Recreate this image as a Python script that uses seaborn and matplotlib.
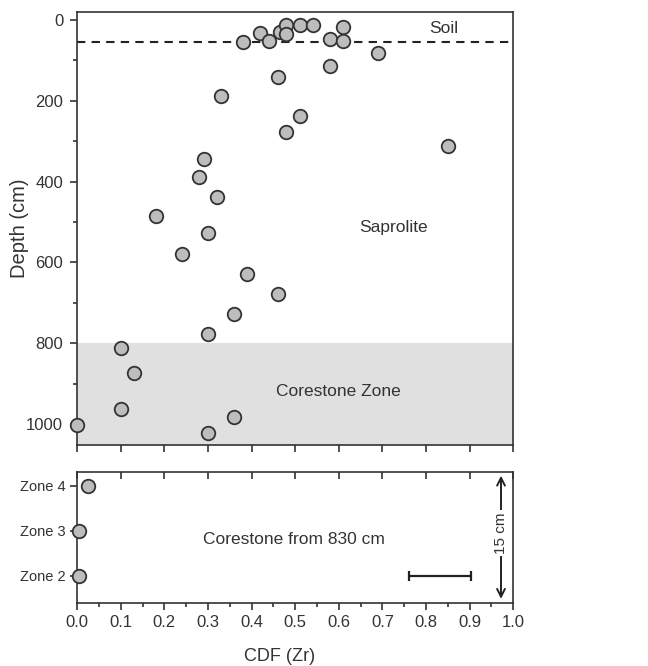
import matplotlib.pyplot as plt
import seaborn as sns
import pandas as pd

# Depth profile of CDF (Zr)
cdf_zr = [0.38, 0.42, 0.44, 0.465, 0.48, 0.48, 0.51, 0.54, 0.61, 0.58, 0.61,
          0.69, 0.58, 0.46, 0.33, 0.51, 0.48, 0.85, 0.29, 0.28, 0.32, 0.18,
          0.30, 0.24, 0.39, 0.46, 0.36, 0.30, 0.10, 0.13, 0.10, 0.00, 0.36, 0.30]
depth_cm = [55, 32, 53, 30, 12, 35, 12, 12, 17, 47, 53,
            82, 113, 141, 188, 237, 277, 313, 343, 388, 439, 484,
            527, 579, 628, 678, 729, 777, 811, 873, 963, 1002, 984, 1022]

# Corestone zones
zone_labels = ["Zone 4", "Zone 3", "Zone 2"]
zone_pos = [4, 3, 2]
zone_cdf = [0.024, 0.005, 0.005]

soil_base = 55
corestone_top = 800
scale_bar = [0.762, 0.903]

sns.set_style("ticks")
plt.rcParams["font.family"] = ["Liberation Sans", "DejaVu Sans"]
txt = "#333333"
plt.rcParams.update({"text.color": txt, "axes.labelcolor": txt,
                     "xtick.color": "#333333", "ytick.color": "#333333",
                     "axes.edgecolor": "#333333"})

fig = plt.figure(figsize=(6.48, 6.66), dpi=100)
ax1 = fig.add_axes([0.119, 0.332, 0.673, 0.650])
ax2 = fig.add_axes([0.119, 0.0946, 0.673, 0.1967])

face = "#bdbdbd"
edge = "#333333"

# top panel
df = pd.DataFrame({"cdf": cdf_zr, "depth": depth_cm})
ax1.axhspan(corestone_top, 1100, color="#e0e0e0", lw=0, zorder=0)
ax1.axhline(soil_base, color="#222222", ls=(0, (4, 3)), lw=1.5, zorder=1)
sns.scatterplot(data=df, x="cdf", y="depth", ax=ax1, s=95, color=face,
                edgecolor=edge, linewidth=1.3, clip_on=False, zorder=3)
ax1.set_xlim(0, 1)
ax1.set_ylim(1052, -20)
ax1.set_xticks([i / 10 for i in range(11)])
ax1.set_xticklabels([])
ax1.set_yticks([0, 200, 400, 600, 800, 1000])
ax1.set_yticks([100, 300, 500, 700, 900], minor=True)
ax1.set_xlabel("")
ax1.set_ylabel("Depth (cm)", fontsize=14.5)
ax1.yaxis.set_label_coords(-0.110, 0.5)
ax1.tick_params(axis="both", which="major", direction="out", length=5,
                width=1.2, labelsize=12, pad=5)
ax1.tick_params(axis="y", which="minor", direction="out", length=3, width=1.2)
for sp in ax1.spines.values():
    sp.set_linewidth(1.2)
ax1.text(0.84, 22, "Soil", fontsize=12.5, ha="center", va="center")
ax1.text(0.725, 513, "Saprolite", fontsize=12.5, ha="center", va="center")
ax1.text(0.60, 921, "Corestone Zone", fontsize=12.5, ha="center", va="center")

# bottom panel
dz = pd.DataFrame({"cdf": zone_cdf, "pos": zone_pos})
sns.scatterplot(data=dz, x="cdf", y="pos", ax=ax2, s=95, color=face,
                edgecolor=edge, linewidth=1.3, clip_on=False, zorder=3)
ax2.set_xlim(0, 1)
ax2.set_ylim(1.4, 4.3)
ax2.set_yticks(zone_pos)
ax2.set_yticklabels(zone_labels)
ax2.set_xticks([i / 10 for i in range(11)])
ax2.set_xticklabels([f"{i / 10:.1f}" for i in range(11)])
ax2.set_xticks([i / 20 for i in range(1, 20, 2)], minor=True)
ax2.set_ylabel("")
ax2.set_xlabel("CDF (Zr)", fontsize=13)
ax2.xaxis.set_label_coords(0.465, -0.345)
ax2.tick_params(axis="x", which="major", direction="out", length=5,
                width=1.2, labelsize=12)
ax2.tick_params(axis="y", which="major", direction="out", length=5,
                width=1.2, labelsize=10.5)
ax2.tick_params(axis="x", which="minor", direction="out", length=3, width=1.2)
for sp in ax2.spines.values():
    sp.set_linewidth(1.2)
# inward ticks along the top edge
ax2.tick_params(axis="x", which="major", top=True, labeltop=False)
for tk in ax2.xaxis.get_major_ticks():
    tk.tick2line.set_marker(3)  # TICKDOWN
    tk.tick2line.set_markersize(5)

ax2.text(0.497, 2.81, "Corestone from 830 cm", fontsize=12.5,
         ha="center", va="center")
mid = sum(scale_bar) / 2
half = (scale_bar[1] - scale_bar[0]) / 2
ax2.errorbar([mid], [2.0], xerr=[half], color="#222222", capsize=3.5,
             elinewidth=1.6, capthick=1.6, fmt="none")
ax2.annotate("", xy=(0.972, 4.28), xytext=(0.972, 1.43),
             arrowprops=dict(arrowstyle="<->", color="#222222", lw=1.4,
                             mutation_scale=14))
ax2.text(0.972, 2.95, "15 cm", rotation=90, fontsize=11, ha="center",
         va="center", bbox=dict(facecolor="white", edgecolor="none", pad=1.5))

fig.savefig("out.png", dpi=100)
